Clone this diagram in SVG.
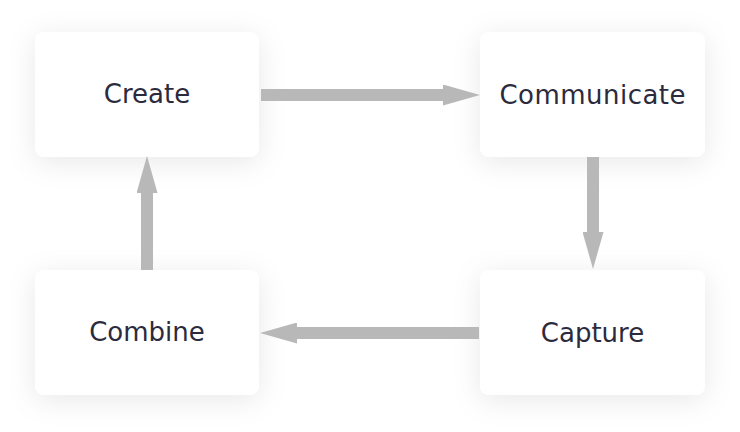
<svg xmlns="http://www.w3.org/2000/svg" width="740" height="432" viewBox="0 0 740 432">
  <defs>
    <filter id="shadow" x="-40%" y="-60%" width="180%" height="220%">
      <feDropShadow dx="0" dy="5" stdDeviation="14" flood-color="#000000" flood-opacity="0.09"/>
    </filter>
    <marker id="head" markerUnits="userSpaceOnUse" markerWidth="37" markerHeight="21" refX="0" refY="10.5" orient="auto">
      <path d="M0,0 L37,10.5 L0,21 Z" fill="#b8b8b8"/>
    </marker>
  </defs>
  <style>
    .box { fill: #ffffff; filter: url(#shadow); }
    .label { font-family: "DejaVu Sans", "Noto Sans", sans-serif; font-size: 26px; fill: #2c2b3d; text-anchor: middle; }
    .conn { stroke: #b8b8b8; stroke-width: 12; fill: none; marker-end: url(#head); }
  </style>
  <rect width="740" height="432" fill="#ffffff"/>
  <g id="create">
    <rect class="box" x="35" y="32" width="224" height="125" rx="9"/>
    <text class="label" x="147" y="103">Create</text>
  </g>
  <g id="communicate">
    <rect class="box" x="480" y="32" width="225" height="125" rx="9"/>
    <text class="label" x="592.5" y="104" textLength="186" lengthAdjust="spacing">Communicate</text>
  </g>
  <g id="capture">
    <rect class="box" x="480" y="270" width="225" height="125" rx="9"/>
    <text class="label" x="592.5" y="342">Capture</text>
  </g>
  <g id="combine">
    <rect class="box" x="35" y="270" width="224" height="125" rx="9"/>
    <text class="label" x="147" y="341">Combine</text>
  </g>
  <g id="connectors">
    <line class="conn" x1="261" y1="95" x2="443" y2="95"/>
    <line class="conn" x1="593" y1="157" x2="593" y2="232"/>
    <line class="conn" x1="479" y1="333" x2="297" y2="333"/>
    <line class="conn" x1="147" y1="270" x2="147" y2="193"/>
  </g>
</svg>
